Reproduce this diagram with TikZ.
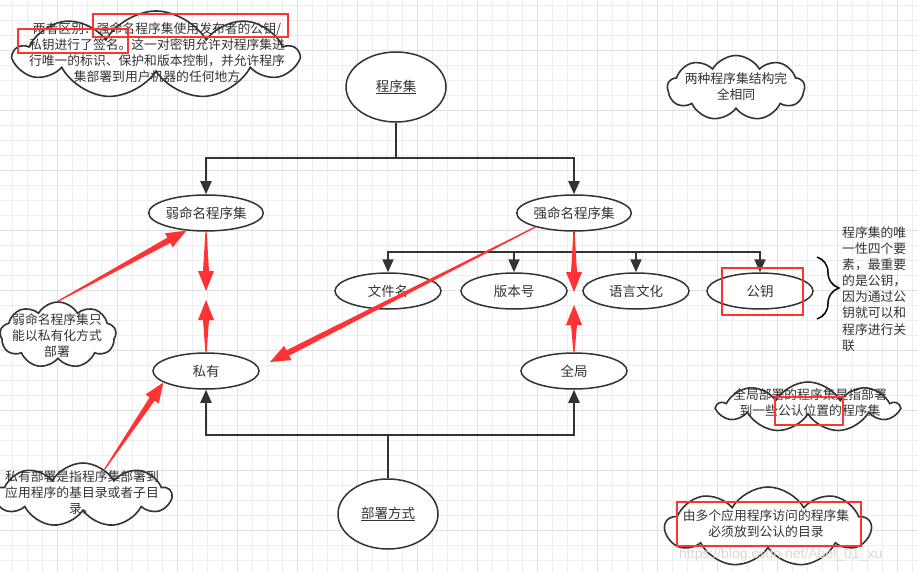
\documentclass[tikz,border=0pt]{standalone}
\usepackage{fontspec}
\setmainfont{Noto Sans CJK SC}
\newfontfamily\wmfont{Liberation Sans}
\usetikzlibrary{shapes.geometric,shapes.symbols,arrows.meta,calc,decorations.pathreplacing}
\definecolor{ink}{HTML}{333333}
\definecolor{alertred}{HTML}{FF3333}
\definecolor{gridminor}{HTML}{EEEEEE}
\definecolor{gridmajor}{HTML}{E0E0E0}

\newcommand{\redarrow}[2]{%
  \fill[alertred] let \p1=(#1), \p2=(#2), \n1={atan2(\y2-\y1,\x2-\x1)} in
    ($(\p1)+(\n1+90:0.6pt)$) -- ($(\p2)+(\n1+180:20pt)+(\n1+90:3pt)$)
    -- ($(\p2)+(\n1+180:20pt)+(\n1+90:8pt)$) -- (\p2)
    -- ($(\p2)+(\n1+180:20pt)+(\n1-90:8pt)$) -- ($(\p2)+(\n1+180:20pt)+(\n1-90:3pt)$)
    -- ($(\p1)+(\n1-90:0.6pt)$) -- cycle;}

\begin{document}
\begin{tikzpicture}[
    x=1pt, y=-1pt,
    stage/.style={ellipse, draw=ink, line width=1.5pt, fill=white, minimum width=106pt, minimum height=36pt, inner sep=0pt, text=ink, font=\fontsize{13.5}{13.5}\selectfont},
    hub/.style={stage, minimum width=100pt, minimum height=70pt},
    puff/.style={cloud, cloud puffs=9, cloud puff arc=120, cloud ignores aspect, draw=ink, line width=1.6pt, fill=white, inner sep=0pt},
    note/.style={text=ink, align=center, inner sep=0pt, font=\fontsize{12.8}{16}\selectfont},
    arrow/.style={-{Triangle[length=13pt,width=11pt]}, line width=2pt, draw=ink},
    link/.style={line width=2pt, draw=ink},
    redbox/.style={draw=alertred, line width=2pt}
]
\fill[white] (0,0) rectangle (918,572);
\useasboundingbox (0,0) rectangle (918,572);
\foreach \gx in {0,...,60} \draw[gridminor, line width=0.8pt] ({12+15*\gx},0) -- ({12+15*\gx},572);
\foreach \gy in {0,...,38} \draw[gridminor, line width=0.8pt] (0,{5+15*\gy}) -- (918,{5+15*\gy});
\foreach \gx in {57,117,...,897} \draw[gridmajor, line width=0.8pt] (\gx,0) -- (\gx,572);
\foreach \gy in {50,110,...,530} \draw[gridmajor, line width=0.8pt] (0,\gy) -- (918,\gy);

\node[hub] (asm) at (396,87) {\underline{程序集}};
\node[stage] (weak) at (206,213) {弱命名程序集};
\node[stage] (strong) at (574,213) {强命名程序集};
\node[stage] (fname) at (388,291) {文件名};
\node[stage] (ver) at (514,291) {版本号};
\node[stage] (cult) at (636,291) {语言文化};
\node[stage] (pkey) at (760,291) {公钥};
\node[stage] (priv) at (206,371) {私有};
\node[stage] (glob) at (574,371) {全局};
\node[hub] (deploy) at (388,514) {\underline{部署方式}};

\coordinate (fork1) at (396,158);
\coordinate (fork2) at (574,252);
\coordinate (fork3) at (388,435);

\draw[link] (asm) -- (fork1);
\draw[arrow] (fork1) -| (weak);
\draw[arrow] (fork1) -| (strong);
\draw[link] (strong) -- (fork2);
\draw[arrow] (fork2) -| (fname);
\draw[arrow] (fork2) -| (ver);
\draw[arrow] (fork2) -| (cult);
\draw[arrow] (fork2) -| (pkey);
\draw[link] (deploy) -- (fork3);
\draw[arrow] (fork3) -| (priv);
\draw[arrow] (fork3) -| (glob);

\node[puff, minimum width=282pt, minimum height=88pt] (diffcloud) at (156,55) {};
\node[note] (difftext) at (157,53) {两者区别：强命名程序集使用发布者的公钥/\\私钥进行了签名。这一对密钥允许对程序集进\\行唯一的标识、保护和版本控制，并允许程序\\集部署到用户机器的任何地方};
\node[puff, minimum width=137pt, minimum height=65pt] (samecloud) at (736,88) {};
\node[note] (sametext) at (736,87) {两种程序集结构完\\全相同};
\node[puff, minimum width=116pt, minimum height=66pt] (wkcloud) at (58,335) {};
\node[note] (wktext) at (57,336) {弱命名程序集只\\能以私有化方式\\部署};
\node[puff, minimum width=176pt, minimum height=64pt] (prcloud) at (83,495) {};
\node[note] (prtext) at (82,493) {私有部署是指程序集部署到\\应用程序的基目录或者子目\\录。};
\node[puff, minimum width=180pt, minimum height=50pt] (glcloud) at (808,407) {};
\node[note] (gltext) at (810,403) {全局部署的程序集是指部署\\到一些公认位置的程序集};
\node[puff, minimum width=205pt, minimum height=80pt] (mucloud) at (768,527) {};
\node[note] (mutext) at (766,524) {由多个应用程序访问的程序集\\必须放到公认的目录};

\coordinate (braceTop) at (817,257);
\coordinate (braceBot) at (817,319);
\draw[decorate, decoration={brace, amplitude=22pt}, line width=1.5pt, draw=black] (braceTop) -- (braceBot);
\node[note, align=left, anchor=west, font=\fontsize{12.8}{16.1}\selectfont] (bracetext) at (842,289) {程序集的唯\\一性四个要\\素，最重要\\的是公钥，\\因为通过公\\钥就可以和\\程序进行关\\联};

\node[text=gray!30, anchor=west, inner sep=0pt, font=\wmfont\fontsize{14}{14}\selectfont] (mark) at (679,555) {https://blog.csdn.net/Abel\_01\_xu};

\draw[redbox] (93,14) rectangle (288,37);
\draw[redbox] (18,29) rectangle (128,53);
\draw[redbox] (722,268) rectangle (803,315);
\draw[redbox] (775,397) rectangle (843,425);
\draw[redbox] (677,502) rectangle (861,546);

\coordinate (wkDown) at (206,291);
\coordinate (wkUp) at (206,300);
\coordinate (stDown) at (574,292);
\coordinate (stUp) at (574,305);
\coordinate (prTip) at (270,362);
\redarrow{weak.south}{wkDown}
\redarrow{priv.north}{wkUp}
\redarrow{strong.south}{stDown}
\redarrow{glob.north}{stUp}
\redarrow{strong.200}{prTip}
\redarrow{wkcloud.north}{weak.222}
\redarrow{prcloud.50}{priv.195}
\end{tikzpicture}
\end{document}
